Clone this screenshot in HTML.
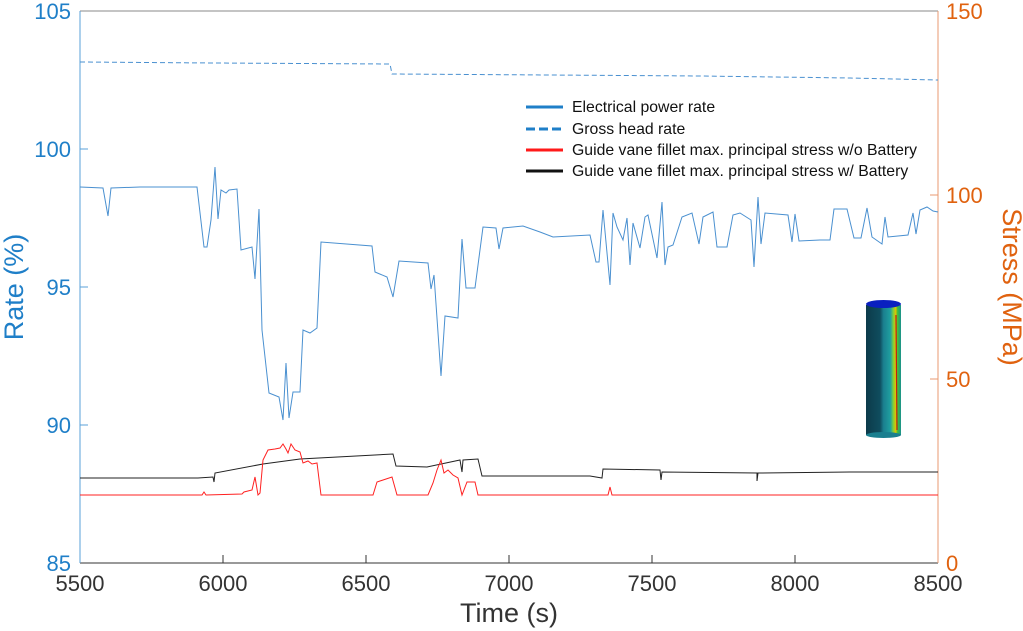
<!DOCTYPE html>
<html><head><meta charset="utf-8"><style>
body{margin:0;background:#fff;}
svg{display:block;font-family:"Liberation Sans",Arial,sans-serif;}
</style></head><body>
<svg width="1023" height="631" viewBox="0 0 1023 631" xmlns="http://www.w3.org/2000/svg">
<defs>
<linearGradient id="cyl" x1="0" x2="1" y1="0" y2="0">
<stop offset="0" stop-color="#0c3a4a"/><stop offset="0.4" stop-color="#0f4d5e"/>
<stop offset="0.5" stop-color="#1a7f8f"/><stop offset="0.7" stop-color="#1fa0a0"/>
<stop offset="0.78" stop-color="#7fd03a"/><stop offset="0.85" stop-color="#e0c000"/>
<stop offset="0.9" stop-color="#3ec03a"/><stop offset="1" stop-color="#1a9090"/>
</linearGradient>
</defs>
<line x1="80" y1="11" x2="938" y2="11" stroke="#888" stroke-width="1"/>
<line x1="80" y1="563" x2="938" y2="563" stroke="#333" stroke-width="1"/>
<line x1="80" y1="11" x2="80" y2="563" stroke="#5aa0d8" stroke-width="1"/>
<line x1="938" y1="11" x2="938" y2="563" stroke="#e89a70" stroke-width="1"/>
<g stroke="#5aa0d8"><line x1="80" y1="149" x2="88" y2="149"/><line x1="80" y1="287" x2="88" y2="287"/><line x1="80" y1="425" x2="88" y2="425"/></g>
<g stroke="#e89a70"><line x1="930" y1="195" x2="938" y2="195"/><line x1="930" y1="379" x2="938" y2="379"/></g>
<g stroke="#333"><line x1="223" y1="563" x2="223" y2="555"/><line x1="366" y1="563" x2="366" y2="555"/><line x1="509" y1="563" x2="509" y2="555"/><line x1="652" y1="563" x2="652" y2="555"/><line x1="795" y1="563" x2="795" y2="555"/></g>
<g fill="#1f7fc8" font-size="22" text-anchor="end">
<text x="71" y="19">105</text><text x="71" y="157">100</text><text x="71" y="295">95</text><text x="71" y="433">90</text><text x="71" y="571">85</text>
</g>
<text transform="translate(23,287) rotate(-90)" fill="#1f7fc8" font-size="27" text-anchor="middle">Rate (%)</text>
<g fill="#e0620f" font-size="22" text-anchor="start">
<text x="946" y="19">150</text><text x="946" y="203">100</text><text x="946" y="387">50</text><text x="946" y="571">0</text>
</g>
<text transform="translate(1003,287) rotate(90)" fill="#e0620f" font-size="27" text-anchor="middle">Stress (MPa)</text>
<g fill="#333" font-size="22" text-anchor="middle">
<text x="80" y="591">5500</text><text x="223" y="591">6000</text><text x="366" y="591">6500</text><text x="509" y="591">7000</text><text x="652" y="591">7500</text><text x="795" y="591">8000</text><text x="938" y="591">8500</text>
</g>
<text x="509" y="622" fill="#333" font-size="27" text-anchor="middle">Time (s)</text>
<polyline fill="none" stroke="#4a90d0" stroke-width="1" stroke-dasharray="5,3" points="80,62 214,63 390,64 392,74 550,75 700,76 850,78 938,80"/>
<polyline fill="none" stroke="#4a90d0" stroke-width="1" points="80,187 103,188 108,216 111,188 140,187 197,187 204,247 207,247 211,220 215,167 218,219 221,190 226,193 229,190 237,189 241,250 252,247 255,279 259,209 262,330 269,393 279,397 283,420 286,363 289,418 293,392 300,392 303,330 310,333 317,328 321,242 372,246 375,272 387,277 393,297 399,261 428,263 431,289 434,275 441,376 445,316 458,318 462,239 466,288 475,288 483,227 496,228 499,249 503,228 523,226 540,232 553,237 590,235 596,262 599,262 603,210 610,285 613,213 617,227 623,240 627,218 630,265 633,223 640,248 645,217 648,215 657,258 662,202 665,265 668,247 673,245 682,217 692,213 699,244 703,217 713,212 717,247 727,247 733,215 740,213 751,220 754,267 758,197 761,244 765,213 788,215 792,242 795,214 799,241 820,240 830,240 834,209 847,209 854,238 861,238 867,208 872,237 882,244 885,217 888,237 908,235 913,213 916,234 920,210 927,207 933,211 938,212"/>
<polyline fill="none" stroke="#222" stroke-width="1" points="80,478 198,478 213,477 214,482 215,473 263,464 300,459 393,454 396,466 427,467 460,460 462,472 463,460 478,459 482,476 530,476 590,476 602,478 603,469 660,470 661,480 662,472 757,473 757,481 758,473 850,472 938,472"/>
<polyline fill="none" stroke="#ff2020" stroke-width="1" points="80,495 202,495 204,492 206,495 242,494 244,492 252,490 255,477 258,495 260,493 263,460 268,450 275,449 280,448 283,444 286,449 288,453 291,444 295,450 300,452 303,463 308,461 312,464 317,463 321,495 373,495 377,482 392,477 397,495 428,495 433,483 437,470 441,460 444,473 448,470 453,475 458,478 462,495 467,482 475,482 478,495 608,495 610,487 612,495 938,495"/>
<g font-size="15.8" fill="#111">
<line x1="526" y1="107" x2="563" y2="107" stroke="#1f7fc8" stroke-width="3"/><text x="572" y="112">Electrical power rate</text>
<line x1="526" y1="129" x2="563" y2="129" stroke="#1f7fc8" stroke-width="3" stroke-dasharray="9,4"/><text x="572" y="134">Gross head rate</text>
<line x1="526" y1="150" x2="563" y2="150" stroke="#ff1a1a" stroke-width="3"/><text x="572" y="155">Guide vane fillet max. principal stress w/o Battery</text>
<line x1="526" y1="171" x2="563" y2="171" stroke="#111" stroke-width="3"/><text x="572" y="176">Guide vane fillet max. principal stress w/ Battery</text>
</g>
<rect x="866" y="305" width="35" height="130" fill="url(#cyl)"/>
<ellipse cx="883.5" cy="435" rx="17.5" ry="3" fill="#1a7f8f"/>
<ellipse cx="883.5" cy="304" rx="17.5" ry="4" fill="#0a1fc0"/>
<line x1="896" y1="315" x2="897" y2="430" stroke="#c02010" stroke-width="1.2"/>
</svg>
</body></html>
